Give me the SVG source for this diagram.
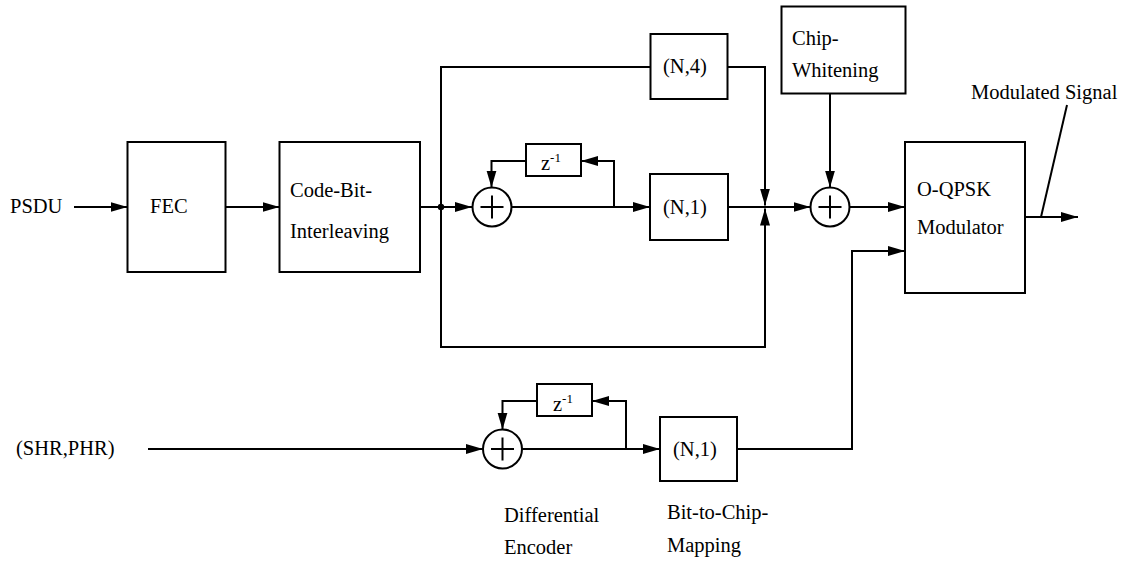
<svg xmlns="http://www.w3.org/2000/svg" width="1126" height="562" viewBox="0 0 1126 562">
<style>
.box{fill:#fff;stroke:#000;stroke-width:2}
.sum{fill:#fff;stroke:#000;stroke-width:2}
.plus{stroke:#000;stroke-width:2;fill:none}
.ln{fill:none;stroke:#000;stroke-width:2}
.ar{fill:none;stroke:#000;stroke-width:2;marker-end:url(#arr)}
.t{font-family:'Liberation Serif','DejaVu Serif','Times New Roman',serif;font-size:20.5px;fill:#000}
.sup{font-size:13px}
</style>
<defs>
<marker id="arr" markerUnits="userSpaceOnUse" markerWidth="20" markerHeight="12" refX="17" refY="5" orient="auto">
<path d="M0,0 L17,5 L0,10 z" fill="#000"/>
</marker>
</defs>
<rect width="1126" height="562" fill="#fff"/>

<g id="connectors">
<path class="ar" d="M74,207 H127.5"/>
<path class="ar" d="M226,207 H279.5"/>
<path class="ar" d="M420,207 H472"/>
<circle cx="441" cy="207" r="3.2" fill="#000"/>
<path class="ln" d="M441,207 V67 H650.5"/>
<path class="ar" d="M727.5,67 H765 V205.5"/>
<path class="ar" d="M441,207 V347 H765 V208.5"/>
<path class="ar" d="M511.5,207 H650"/>
<path class="ar" d="M614,207 V161 H581"/>
<path class="ar" d="M526,161 H491.5 V187.5"/>
<path class="ar" d="M728,207 H810.5"/>
<path class="ar" d="M830,93.5 V187.5"/>
<path class="ar" d="M849.5,207 H905"/>
<path class="ar" d="M1025,217 H1078"/>
<path class="ln" d="M1041,217 L1067,105"/>
<path class="ar" d="M148,449 H483"/>
<path class="ar" d="M522,449 H660"/>
<path class="ar" d="M626,449 V401 H592"/>
<path class="ar" d="M537,401 H502.5 V429.5"/>
<path class="ar" d="M737,449 H852 V251 H905"/>
</g>

<g class="t" font-family="Liberation Serif, DejaVu Serif, serif">
<g id="psdu"><text x="10" y="213">PSDU</text></g>
<g id="shrphr"><text x="16" y="455">(SHR,PHR)</text></g>

<g id="fec">
<rect class="box" x="127.5" y="142" width="98" height="130"/>
<text x="150" y="213">FEC</text>
</g>

<g id="interleaver">
<rect class="box" x="279.5" y="142" width="140.5" height="130"/>
<text x="290" y="197">Code-Bit-</text>
<text x="290" y="238">Interleaving</text>
</g>

<g id="sum1">
<circle class="sum" cx="492" cy="207" r="19.5"/>
<path class="plus" d="M480.5,207 H503.5 M492,195.5 V218.5"/>
</g>

<g id="delay1">
<rect class="box" x="526" y="144" width="55" height="32"/>
<text x="541" y="170">z<tspan class="sup" dy="-8">-1</tspan></text>
</g>

<g id="n4">
<rect class="box" x="650.5" y="34" width="77" height="65"/>
<text x="663" y="73">(N,4)</text>
</g>

<g id="n1upper">
<rect class="box" x="650" y="174" width="78" height="66"/>
<text x="663" y="214">(N,1)</text>
</g>

<g id="chipwhitening">
<rect class="box" x="781.5" y="6.5" width="124" height="87"/>
<text x="792" y="45">Chip-</text>
<text x="792" y="77">Whitening</text>
</g>

<g id="sum2">
<circle class="sum" cx="830" cy="207" r="19.5"/>
<path class="plus" d="M818.5,207 H841.5 M830,195.5 V218.5"/>
</g>

<g id="modulator">
<rect class="box" x="905" y="142" width="120" height="151"/>
<text x="917" y="196">O-QPSK</text>
<text x="917" y="234">Modulator</text>
</g>

<g id="modsignal"><text x="971" y="99">Modulated Signal</text></g>

<g id="sum3">
<circle class="sum" cx="502.5" cy="449" r="19.5"/>
<path class="plus" d="M491,449 H514 M502.5,437.5 V460.5"/>
</g>

<g id="delay2">
<rect class="box" x="537" y="384" width="55" height="32"/>
<text x="553" y="411">z<tspan class="sup" dy="-8">-1</tspan></text>
</g>

<g id="n1lower">
<rect class="box" x="660" y="417" width="77" height="64"/>
<text x="673" y="456">(N,1)</text>
</g>

<g id="diffenc-label">
<text x="504" y="522">Differential</text>
<text x="504" y="554">Encoder</text>
</g>

<g id="b2c-label">
<text x="667" y="519">Bit-to-Chip-</text>
<text x="667" y="552">Mapping</text>
</g>
</g>
</svg>
